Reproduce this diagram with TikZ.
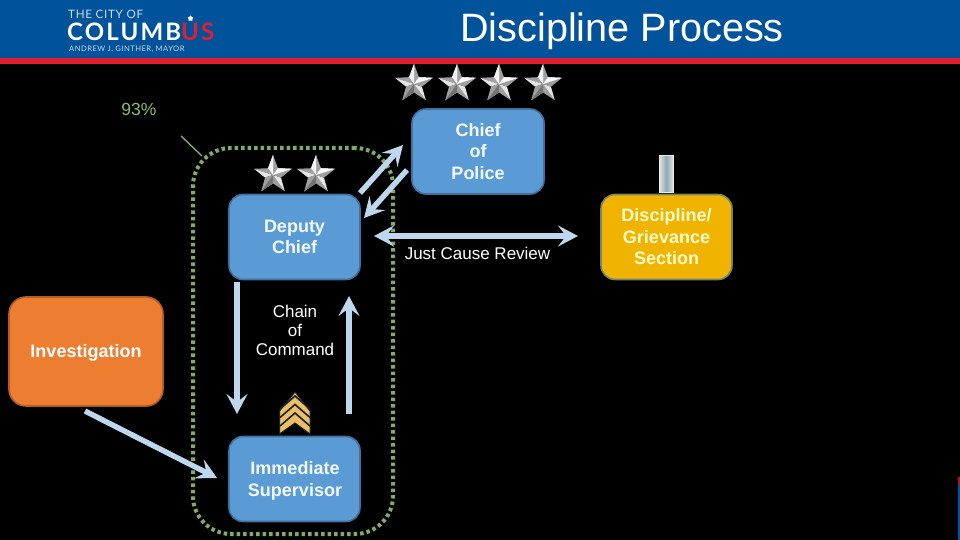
\documentclass[tikz,border=0pt]{standalone}
\usepackage{fontspec}
\setmainfont{Liberation Sans}
\newfontfamily\logofont[LetterSpace=6]{Lato}
\newfontfamily\logobold[LetterSpace=9]{Lato}
\usetikzlibrary{arrows.meta,calc,shapes.geometric}
\definecolor{hdrblue}{HTML}{00529B}
\definecolor{hdrred}{HTML}{E21F2F}
\definecolor{boxblue}{HTML}{5B9BD5}
\definecolor{boxedge}{HTML}{41719C}
\definecolor{arrowblue}{HTML}{BDD7EE}
\definecolor{grp}{HTML}{70AD47}
\definecolor{grpdot}{HTML}{83AA68}
\definecolor{orangebox}{HTML}{ED7D31}
\definecolor{goldbox}{HTML}{F0B400}
\definecolor{txtw}{HTML}{F2FAFF}
\definecolor{chev}{HTML}{EDBE63}
\definecolor{barmid}{HTML}{8FA9B5}
\tikzset{
  x=1pt,y=-1pt,
  pbox/.style={draw=boxedge,line width=1.6pt,rounded corners=14pt,fill=boxblue,
    minimum width=131pt,minimum height=85pt,inner sep=0pt,align=center,text=txtw,
    font=\fontsize{18}{21.5}\selectfont\bfseries},
  boxtext/.style={inner sep=0pt,align=center,font=\fontsize{18}{21.5}\selectfont\bfseries},
  thickarrow/.style={draw=arrowblue,line width=5.4pt,-{Stealth[length=20pt,width=21pt,inset=8pt]}},
  thickboth/.style={draw=arrowblue,line width=5.4pt,{Stealth[length=20pt,width=21pt,inset=8pt]}-{Stealth[length=20pt,width=21pt,inset=8pt]}},
  plain/.style={text=white,align=center,inner sep=0pt},
}
\newcommand{\ministar}[2]{%
  \begin{scope}[shift={(#1,#2)},y=1pt]
    \foreach \a in {90,162,234,306,378}{
      \fill[gray!75] (0,0) -- (\a:20) -- (\a-36:8.4) -- cycle;
      \fill[gray!20] (0,0) -- (\a:20) -- (\a+36:8.4) -- cycle;
    }
    \fill[white!90!gray] (0,0) -- (90:20) -- (126:8.4) -- cycle;
    \fill[gray!90!black] (0,0) -- (234:20) -- (270:8.4) -- cycle;
    \fill[white] (0,0) -- (18:20) -- (54:8.4) -- cycle;
  \end{scope}}
\begin{document}
\begin{tikzpicture}
\useasboundingbox (0,0) rectangle (960,540);
\fill[black] (0,0) rectangle (960,540);
\fill[hdrblue] (0,0) rectangle (960,58);
\fill[hdrred] (0,58) rectangle (960,64);
\fill[hdrblue] (958,484) rectangle (960,540);
\fill[hdrred!75!black] (958,477) rectangle (960,484);
% logo
\node[anchor=west,inner sep=0pt,text=white!80!hdrblue,font=\logofont\fontsize{11.6}{12}\selectfont] (logoa) at (68,14.5) {THE CITY OF};
\node[anchor=west,inner sep=0pt,text=white,font=\logobold\bfseries\fontsize{24}{25}\selectfont] (logob) at (67,31.5) {COLUMB\textcolor{hdrred}{US}};
\node[anchor=west,inner sep=0pt,text=white!80!hdrblue,font=\logofont\fontsize{7.6}{8}\selectfont] (logoc) at (69,49) {ANDREW J. GINTHER, MAYOR};
\node[star,star points=5,fill=white,minimum size=6pt,inner sep=0pt] (logostar) at (190.5,18.5) {};
% title
\node[plain,font=\fontsize{39.6}{42}\selectfont] (title) at (622,31) {Discipline Process};
% group outline
\node[draw=grpdot,line width=4pt,dash pattern=on 3.5pt off 3pt,rounded corners=38pt,minimum width=200pt,minimum height=386pt,inner sep=0pt] (group) at (293,341) {};
\coordinate (leadstart) at (181,136);
\coordinate (leadend) at (202,156);
\draw[grpdot,line width=1.4pt] (leadstart) -- (leadend);
\node[font=\fontsize{17.5}{19}\selectfont,text=grp!80!white,inner sep=0pt] (pct) at (139,109.5) {93\%};
% rank insignia
\ministar{414}{84}\ministar{457}{84}\ministar{499}{84}\ministar{543}{84}
\ministar{273}{175}\ministar{316}{175}
\shade[left color=white!75!gray,right color=white!75!gray,middle color=barmid,draw=white!85!gray,line width=1pt] (659.5,155.5) rectangle (673,192);
% chevrons
\fill[chev,draw=black!70!boxedge,line width=1pt] (279.5,434) -- (279.5,411) -- (295,392) -- (310,411) -- (310,434) -- (295,423) -- cycle;
\foreach \d in {0,8.5,17}{
  \draw[black!70!boxedge,line width=1.6pt] (280,{409+\d}) -- (295,{396+\d}) -- (310,{409+\d});
}
% boxes
\node[pbox,minimum width=132pt] (chief) at (478,151.5) {Chief\\of\\Police};
\node[pbox] (deputy) at (294.5,237) {Deputy\\Chief};
\node[pbox,draw=orangebox!75!black,fill=orangebox,minimum width=154pt,minimum height=109pt,rounded corners=17pt] (inv) at (86,351.5) {};
\node[boxtext,text=white] (invtext) at (86,353) {Investigation};
\node[pbox] (imm) at (294.5,479) {};
\node[boxtext,text=txtw] (immtext) at (295,481) {Immediate\\Supervisor};
\node[pbox,fill=goldbox,draw=boxedge!70!goldbox,text=white!80!yellow] (disc) at (666.5,237) {Discipline/\\Grievance\\Section};
% labels
\node[plain,font=\fontsize{17}{19}\selectfont] (coc) at (295,330) {Chain\\of\\Command};
\node[plain,font=\fontsize{17}{19}\selectfont] (jcr) at (477.5,253) {Just Cause Review};
% connectors
\coordinate (a1s) at (360,193); \coordinate (a1e) at (403,145);
\coordinate (a2s) at (407,170); \coordinate (a2e) at (364,218);
\coordinate (a3s) at (374,236); \coordinate (a3e) at (578,236);
\coordinate (a4s) at (237,282); \coordinate (a4e) at (237,414);
\coordinate (a5s) at (349,414); \coordinate (a5e) at (349,296);
\coordinate (a6s) at (85,411); \coordinate (a6e) at (217,478);
\draw[thickarrow] (a1s) -- (a1e);
\draw[thickarrow] (a2s) -- (a2e);
\draw[thickboth] (a3s) -- (a3e);
\draw[thickarrow] (a4s) -- (a4e);
\draw[thickarrow] (a5s) -- (a5e);
\draw[thickarrow] (a6s) -- (a6e);
\end{tikzpicture}
\end{document}
